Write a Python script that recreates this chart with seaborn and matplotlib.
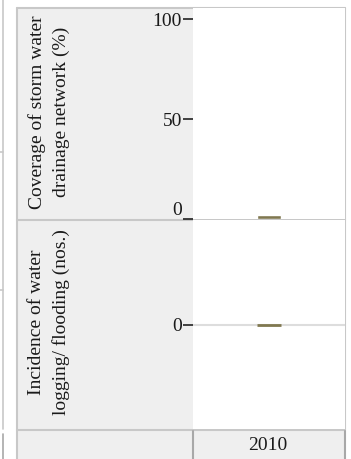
import matplotlib
matplotlib.use("Agg")
import matplotlib.pyplot as plt
import seaborn as sns
import pandas as pd
from matplotlib.patches import Rectangle

# one year, two indicators
years = ["2010"]
coverage = [2]      # Coverage of storm water drainage network (%)
incidence = [0]     # Incidence of water logging/ flooding (nos.)
row_labels = ["Coverage of storm water\ndrainage network (%)",
              "Incidence of water\nlogging/ flooding (nos.)"]

bar_color = "#807850"
cell_gray = "#efefef"
line_gray = "#c8c8c8"

sns.set_style("white")
plt.rcParams["font.family"] = ["Liberation Serif", "DejaVu Serif"]
plt.rcParams["font.size"] = 14

W, H = 351, 459
fig = plt.figure(figsize=(W / 100, H / 100), dpi=100)

# background "table" in pixel coordinates
bg = fig.add_axes([0, 0, 1, 1], zorder=0)
bg.set_xlim(0, W)
bg.set_ylim(H, 0)
bg.axis("off")
bg.add_patch(Rectangle((17, 8), 176, 451, color=cell_gray, lw=0))
bg.add_patch(Rectangle((193, 430), 152, 29, color=cell_gray, lw=0))
bg.plot([17, 345], [8, 8], color=line_gray, lw=1.5)
bg.plot([17, 17], [8, 459], color=line_gray, lw=1.5)
bg.plot([17, 345], [219.5, 219.5], color=line_gray, lw=1.5)
bg.plot([17, 345], [429.5, 429.5], color=line_gray, lw=1.5)
bg.plot([345, 345], [8, 430], color=line_gray, lw=1.5)
bg.plot([193, 193], [431, 459], color="#a8a8a8", lw=1.5)
bg.plot([345, 345], [431, 459], color="#a8a8a8", lw=1.5)
bg.plot([3, 3], [0, 429], color=line_gray, lw=1.2)
bg.plot([3, 3], [434, 459], color="#a8a8a8", lw=1.2)
bg.plot([0, 3], [152, 152], color=line_gray, lw=1.2)
bg.plot([0, 3], [290, 290], color=line_gray, lw=1.2)

bg.text(49, 112, row_labels[0], rotation=90, ha="center", va="center",
        multialignment="center", linespacing=1.45, color="#1a1a1a")
bg.text(49, 322, row_labels[1], rotation=90, ha="center", va="center",
        multialignment="center", linespacing=1.45, color="#1a1a1a")
bg.text(268, 446, years[0], ha="center", va="center", color="#1a1a1a")


def pane(top, bottom):
    return [193 / W, 1 - bottom / H, 152 / W, (bottom - top) / H]


df1 = pd.DataFrame({"year": years, "value": coverage})
df2 = pd.DataFrame({"year": years, "value": incidence})

ax1 = fig.add_axes(pane(8, 219), zorder=1)
sns.barplot(data=df1, x="year", y="value", color=bar_color, width=0.16,
            saturation=1, ax=ax1)
ax1.set_xlim(-0.5, 0.5)
ax1.set_ylim(0, 105.5)
ax1.set_yticks([0, 50, 100])
ax1.set_yticklabels(["0", "50", "100"])
ax1.get_yticklabels()[0].set_va("bottom")

ax2 = fig.add_axes(pane(220, 429), zorder=1)
sns.barplot(data=df2, x="year", y="value", color=bar_color, width=0.16,
            saturation=1, ax=ax2, edgecolor=bar_color, linewidth=2)
ax2.set_xlim(-0.5, 0.5)
ax2.set_ylim(-1, 1)
ax2.set_yticks([0])
ax2.axhline(0, color="#dddddd", lw=1.5, zorder=0)

for ax in (ax1, ax2):
    ax.set_xlabel("")
    ax.set_ylabel("")
    ax.set_xticks([])
    ax.set_facecolor("white")
    for s in ax.spines.values():
        s.set_visible(False)
    ax.tick_params(axis="y", left=True, length=7, width=1.2, color="#222222",
                   pad=1, labelsize=14, labelcolor="#1a1a1a")

fig.savefig("out.png", dpi=100)
